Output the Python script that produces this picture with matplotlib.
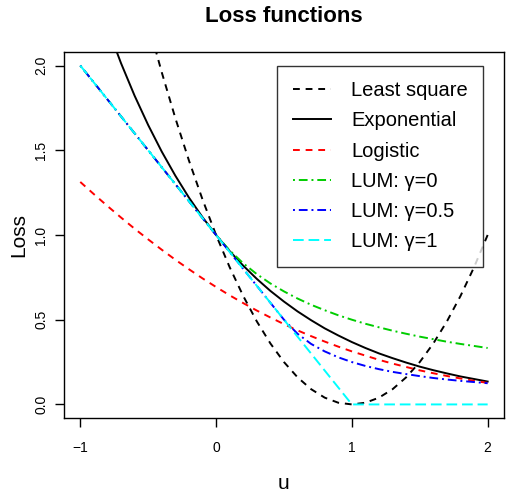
import matplotlib
matplotlib.use("Agg")
import matplotlib.pyplot as plt

plt.rcParams["font.family"] = ["Liberation Sans", "DejaVu Sans"]

# valeurs lues sur la figure, pas de 0.1 en u
u = [-1.0, -0.9, -0.8, -0.7, -0.6, -0.5, -0.4, -0.3, -0.2, -0.1,
     0.0, 0.1, 0.2, 0.3, 0.4, 0.5, 0.6, 0.7, 0.8, 0.9,
     1.0, 1.1, 1.2, 1.3, 1.4, 1.5, 1.6, 1.7, 1.8, 1.9, 2.0]

least_square = [4.00, 3.61, 3.24, 2.89, 2.56, 2.25, 1.96, 1.69, 1.44, 1.21,
                1.00, 0.81, 0.64, 0.49, 0.36, 0.25, 0.16, 0.09, 0.04, 0.01,
                0.00, 0.01, 0.04, 0.09, 0.16, 0.25, 0.36, 0.49, 0.64, 0.81, 1.00]

exponential = [2.718, 2.460, 2.226, 2.014, 1.822, 1.649, 1.492, 1.350, 1.221, 1.105,
               1.000, 0.905, 0.819, 0.741, 0.670, 0.607, 0.549, 0.497, 0.449, 0.407,
               0.368, 0.333, 0.301, 0.273, 0.247, 0.223, 0.202, 0.183, 0.165, 0.150, 0.135]

logistic = [1.313, 1.241, 1.171, 1.103, 1.037, 0.974, 0.913, 0.854, 0.798, 0.744,
            0.693, 0.644, 0.598, 0.554, 0.513, 0.474, 0.437, 0.403, 0.371, 0.341,
            0.313, 0.288, 0.263, 0.241, 0.221, 0.201, 0.184, 0.168, 0.153, 0.139, 0.127]

lum_0 = [2.0, 1.9, 1.8, 1.7, 1.6, 1.5, 1.4, 1.3, 1.2, 1.1,
         1.000, 0.909, 0.833, 0.769, 0.714, 0.667, 0.625, 0.588, 0.556, 0.526,
         0.500, 0.476, 0.455, 0.435, 0.417, 0.400, 0.385, 0.370, 0.357, 0.345, 0.333]

lum_05 = [2.0, 1.9, 1.8, 1.7, 1.6, 1.5, 1.4, 1.3, 1.2, 1.1,
          1.0, 0.9, 0.8, 0.7, 0.6, 0.5, 0.417, 0.357, 0.313, 0.278,
          0.250, 0.227, 0.208, 0.192, 0.179, 0.167, 0.156, 0.147, 0.139, 0.132, 0.125]

lum_1 = [2.0, 1.9, 1.8, 1.7, 1.6, 1.5, 1.4, 1.3, 1.2, 1.1,
         1.0, 0.9, 0.8, 0.7, 0.6, 0.5, 0.4, 0.3, 0.2, 0.1,
         0.0, 0.0, 0.0, 0.0, 0.0, 0.0, 0.0, 0.0, 0.0, 0.0, 0.0]

labels = ["Least square", "Exponential", "Logistic",
          "LUM: \u03b3=0", "LUM: \u03b3=0.5", "LUM: \u03b3=1"]

fig = plt.figure(figsize=(5.11, 4.97), dpi=100)
ax = fig.add_axes([0.1252, 0.159, 0.861, 0.7364])

lw = 1.4
ax.plot(u, least_square, color="black", lw=lw, dashes=(3.5, 3))
ax.plot(u, exponential, color="black", lw=lw)
ax.plot(u, logistic, color="#ff0000", lw=lw, dashes=(3.5, 3))
ax.plot(u, lum_0, color="#00cd00", lw=lw, dashes=(1, 2, 4.5, 2))
ax.plot(u, lum_05, color="#0000ff", lw=lw, dashes=(1, 2, 4.5, 2))
ax.plot(u, lum_1, color="#00ffff", lw=lw, dashes=(5.5, 2.5))

ax.set_xlim(-1.12, 2.12)
ax.set_ylim(-0.08, 2.08)
ax.set_xticks([-1, 0, 1, 2])
ax.set_xticklabels(["\u22121", "0", "1", "2"])
ax.set_yticks([0.0, 0.5, 1.0, 1.5, 2.0])
ax.set_yticklabels(["0.0", "0.5", "1.0", "1.5", "2.0"], rotation=90, va="center")
ax.tick_params(axis="both", direction="out", length=6.5, width=1, labelsize=10)
ax.tick_params(axis="x", pad=10)
ax.tick_params(axis="y", pad=5)
for s in ax.spines.values():
    s.set_linewidth(1)

ax.set_xlabel("u", fontsize=15, labelpad=14)
ax.set_ylabel("Loss", fontsize=15, labelpad=4)
fig.text(0.5558, 0.966, "Loss functions", fontsize=16, fontweight="bold",
         ha="center", va="center")

leg = ax.legend(ax.get_lines(), labels, loc="upper right",
                bbox_to_anchor=(0.952, 0.9617), fontsize=14.5,
                frameon=True, fancybox=False, edgecolor="black",
                handlelength=1.9, handletextpad=1.0, labelspacing=0.56,
                borderpad=0.75, borderaxespad=0)
leg.get_frame().set_linewidth(1)

fig.savefig("out.png", dpi=100)
